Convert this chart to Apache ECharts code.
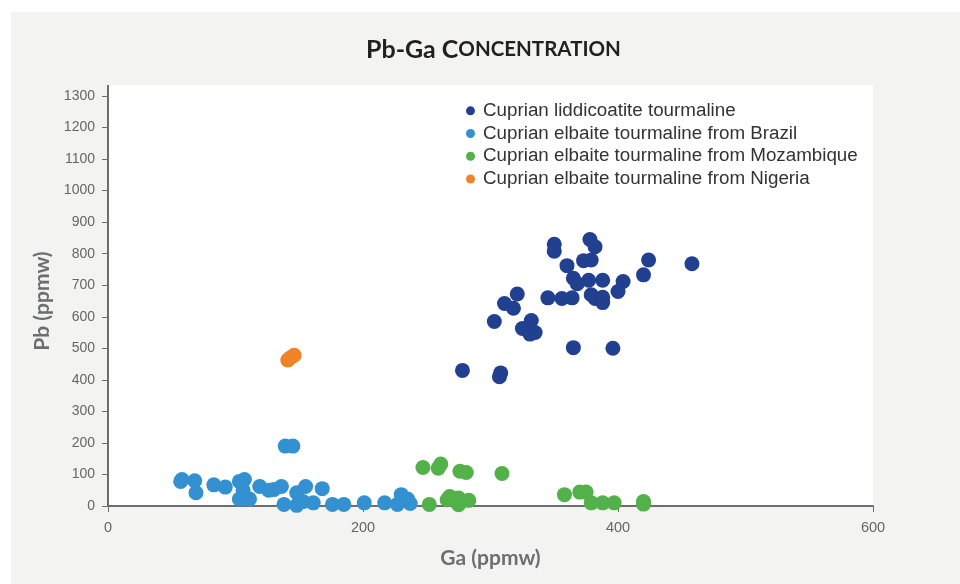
<!DOCTYPE html>
<html>
<head>
<meta charset="utf-8">
<script src="https://cdn.jsdelivr.net/npm/echarts@6/dist/echarts.min.js"></script>
<style>
  html, body { margin: 0; padding: 0; background: #fff; }
  #chart { width: 960px; height: 584px; }
</style>
</head>
<body>
<div id="chart"></div>
<script>
// Ga (x) / Pb (y) in ppmw
const liddicoatite = [
  [278, 430], [307, 410], [308, 422], [303, 585], [311, 642], [318, 627],
  [321, 672], [325, 563], [332, 588], [331, 555], [335, 550], [331, 545],
  [345, 660], [350, 830], [350, 808], [356, 658], [360, 762], [364, 660],
  [365, 502], [365, 722], [368, 705], [373, 778], [377, 716], [378, 845],
  [379, 780], [379, 670], [382, 822], [382, 658], [388, 716], [388, 662],
  [388, 645], [396, 500], [400, 680], [404, 712], [420, 733], [424, 780],
  [458, 768]
];
const brazil = [
  [57, 78], [58, 84], [68, 80], [69, 42], [83, 67], [92, 60], [103, 78],
  [107, 84], [103, 22], [111, 22], [106, 50], [119, 62], [126, 50], [130, 52],
  [136, 62], [139, 190], [145, 190], [138, 5], [148, 42], [155, 62], [148, 2],
  [153, 14], [161, 10], [168, 55], [176, 5], [185, 5], [201, 10], [217, 10],
  [227, 5], [230, 36], [235, 22], [237, 8]
];
const mozambique = [
  [247, 122], [259, 120], [261, 133], [276, 110], [281, 106], [309, 103],
  [252, 5], [266, 20], [268, 30], [275, 25], [275, 4], [283, 18],
  [358, 36], [370, 44], [375, 44], [379, 10], [388, 10], [397, 10],
  [420, 14], [420, 6]
];
const nigeria = [[141, 463], [143, 470], [146, 478]];

const seriesNames = [
  'Cuprian liddicoatite tourmaline',
  'Cuprian elbaite tourmaline from Brazil',
  'Cuprian elbaite tourmaline from Mozambique',
  'Cuprian elbaite tourmaline from Nigeria'
];
const seriesData = [liddicoatite, brazil, mozambique, nigeria];
const colors = ['#21408f', '#3391d1', '#52b148', '#f18225'];

const axisGray = '#6d6e71';
const nameFont = { fontFamily: 'Lato', fontWeight: 'bold', fontSize: 21, color: axisGray };

const chart = echarts.init(document.getElementById('chart'));

chart.setOption({
  animation: false,
  color: colors,
  title: {
    text: '{a|Pb-Ga C}{b|ONCENTRATION}',
    left: 361,
    top: 32,
    textStyle: {
      rich: {
        a: { fontFamily: 'Lato', fontWeight: 'bold', fontSize: 25, color: '#231f20' },
        b: { fontFamily: 'Lato', fontWeight: 'bold', fontSize: 20.5, color: '#231f20' }
      }
    }
  },
  graphic: [
    { type: 'rect', z: -10, shape: { x: 11, y: 12, width: 960, height: 584 }, style: { fill: '#f3f3f1' } },
    { type: 'rect', z: -9, shape: { x: 108, y: 85, width: 765, height: 421 }, style: { fill: '#ffffff' } },
    { type: 'line', z: 5, shape: { x1: 108, y1: 85, x2: 108, y2: 97 }, style: { stroke: axisGray, lineWidth: 2 } }
  ],
  legend: {
    orient: 'vertical',
    left: 461,
    top: 96,
    itemWidth: 9,
    itemHeight: 9,
    itemGap: 3,
    icon: 'circle',
    textStyle: { fontFamily: 'Liberation Sans', fontSize: 18.8, color: '#333', lineHeight: 19.7, padding: [0, 0, 0, 3] },
    data: seriesNames
  },
  grid: { left: 108, right: 87, top: 96, bottom: 78 },
  xAxis: {
    type: 'value',
    min: 0,
    max: 600,
    interval: 200,
    name: 'Ga (ppmw)',
    nameLocation: 'middle',
    nameGap: 42,
    nameTextStyle: nameFont,
    axisLine: { lineStyle: { color: axisGray, width: 2 } },
    axisTick: { show: true, length: 6, lineStyle: { color: axisGray, width: 1 } },
    axisLabel: { fontFamily: 'Liberation Sans', fontSize: 14.5, color: '#666', margin: 14 },
    splitLine: { show: false }
  },
  yAxis: {
    type: 'value',
    min: 0,
    max: 1300,
    interval: 100,
    name: 'Pb (ppmw)',
    nameLocation: 'middle',
    nameGap: 40,
    nameTextStyle: nameFont,
    axisLine: { show: true, lineStyle: { color: axisGray, width: 2 } },
    axisTick: { show: true, length: 6, lineStyle: { color: axisGray, width: 1 } },
    axisLabel: { fontFamily: 'Liberation Sans', fontSize: 14, color: '#666', margin: 13, formatter: v => String(v) },
    splitLine: { show: false }
  },
  series: seriesData.map((d, i) => ({
    name: seriesNames[i],
    type: 'scatter',
    symbolSize: 15,
    itemStyle: { color: colors[i], opacity: 1 },
    data: d
  }))
});
</script>
</body>
</html>
